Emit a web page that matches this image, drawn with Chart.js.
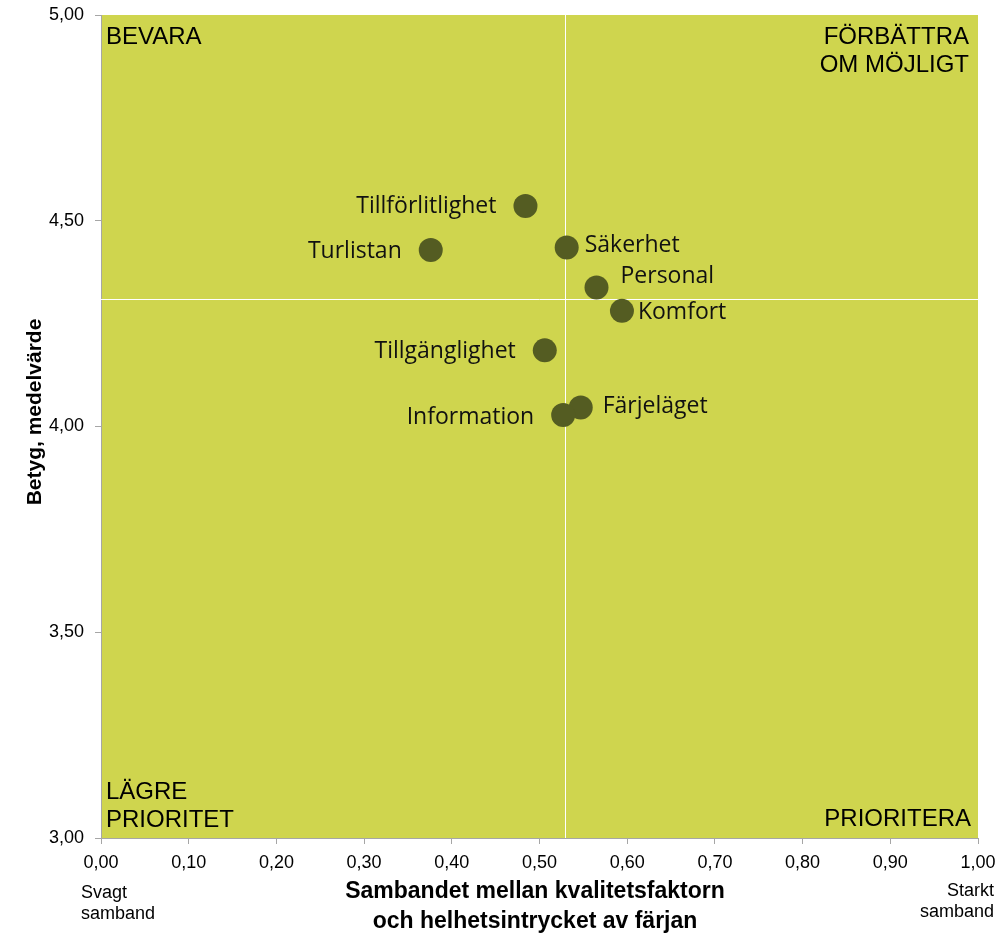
<!DOCTYPE html>
<html>
<head>
<meta charset="utf-8">
<script src="https://cdn.jsdelivr.net/npm/chart.js@4.4.1/dist/chart.umd.min.js"></script>
<style>
  html, body { margin: 0; padding: 0; background: #fff; }
  #wrap { width: 999px; height: 934px; }
</style>
</head>
<body>
<div id="wrap"><canvas id="chart" width="999" height="934"></canvas></div>
<script>
// data
const categories = ["Tillförlitlighet", "Turlistan", "Säkerhet", "Personal",
                    "Komfort", "Tillgänglighet", "Färjeläget", "Information"];
const xValues = [0.484, 0.376, 0.531, 0.565, 0.594, 0.506, 0.547, 0.527];
const yValues = [4.536, 4.429, 4.435, 4.338, 4.281, 4.185, 4.046, 4.028];

const xTicks = [0, 0.1, 0.2, 0.3, 0.4, 0.5, 0.6, 0.7, 0.8, 0.9, 1.0];
const yTicks = [3.0, 3.5, 4.0, 4.5, 5.0];

// quadrant split lines
const splitX = 0.529;
const splitY = 4.311;

const quadrantTopLeft = ["BEVARA"];
const quadrantTopRight = ["FÖRBÄTTRA", "OM MÖJLIGT"];
const quadrantBottomLeft = ["LÄGRE", "PRIORITET"];
const quadrantBottomRight = ["PRIORITERA"];

const xTitle = ["Sambandet mellan kvalitetsfaktorn", "och helhetsintrycket av färjan"];
const yTitle = "Betyg, medelvärde";
const xLowNote = ["Svagt", "samband"];
const xHighNote = ["Starkt", "samband"];

// label placement next to each dot (pixels)
const labelPlace = [
  { side: "left", dx: -29, dy: 1 },
  { side: "left", dx: -29, dy: 1 },
  { side: "right", dx: 18, dy: -2 },
  { side: "right", dx: 24, dy: -11 },
  { side: "right", dx: 16, dy: 2 },
  { side: "left", dx: -29, dy: 1 },
  { side: "right", dx: 22, dy: -1 },
  { side: "left", dx: -29, dy: 2 }
];

const FILL = "#cfd54e";
const DOT = "#545c22";
const AXIS = "#a6a6a6";
const ARIAL = "'Liberation Sans', Arial, sans-serif";
const LABEL_FONT = "23px 'Open Sans', 'Noto Sans', sans-serif";

const fmt = v => Number(v).toFixed(2).replace(".", ",");

const quadrantPlugin = {
  id: "quadrants",
  beforeDraw(chart) {
    const { ctx, chartArea: a } = chart;
    ctx.save();
    ctx.fillStyle = FILL;
    ctx.fillRect(a.left, a.top, a.right - a.left, a.bottom - a.top);
    ctx.restore();
  },
  beforeDatasetsDraw(chart) {
    const { ctx, chartArea: a, scales } = chart;
    const px = Math.round(scales.x.getPixelForValue(splitX)) + 0.5;
    const py = Math.round(scales.y.getPixelForValue(splitY)) + 0.5;
    ctx.save();
    ctx.strokeStyle = "#ffffff";
    ctx.lineWidth = 1;
    ctx.beginPath();
    ctx.moveTo(px, a.top);
    ctx.lineTo(px, a.bottom);
    ctx.moveTo(a.left, py);
    ctx.lineTo(a.right, py);
    ctx.stroke();
    ctx.restore();
  },
  afterDatasetsDraw(chart) {
    const { ctx, chartArea: a } = chart;
    const meta = chart.getDatasetMeta(0);
    ctx.save();

    // quadrant texts
    ctx.fillStyle = "#000";
    ctx.font = "24px " + ARIAL;
    ctx.textBaseline = "middle";
    ctx.textAlign = "left";
    quadrantTopLeft.forEach((t, i) => ctx.fillText(t, a.left + 5, a.top + 22 + i * 28));
    quadrantBottomLeft.forEach((t, i) => ctx.fillText(t, a.left + 5, a.bottom - 46 + i * 28));
    ctx.textAlign = "right";
    quadrantTopRight.forEach((t, i) => ctx.fillText(t, a.right - 9, a.top + 22 + i * 28));
    quadrantBottomRight.forEach((t, i) => ctx.fillText(t, a.right - 7, a.bottom - 19 + i * 28));

    // dot labels
    ctx.font = LABEL_FONT;
    ctx.fillStyle = "#111";
    meta.data.forEach((pt, i) => {
      const p = labelPlace[i];
      ctx.textAlign = p.side === "left" ? "right" : "left";
      ctx.fillText(categories[i], pt.x + p.dx, pt.y + p.dy);
    });

    // notes under the x axis
    ctx.font = "18px " + ARIAL;
    ctx.fillStyle = "#000";
    ctx.textAlign = "left";
    xLowNote.forEach((t, i) => ctx.fillText(t, 81, 893 + i * 21));
    ctx.textAlign = "right";
    xHighNote.forEach((t, i) => ctx.fillText(t, 994, 891 + i * 21));

    // axis titles
    ctx.font = "bold 23px " + ARIAL;
    ctx.textAlign = "center";
    xTitle.forEach((t, i) => ctx.fillText(t, 535, 892 + i * 30));

    ctx.translate(35, 412);
    ctx.rotate(-Math.PI / 2);
    ctx.font = "bold 21px " + ARIAL;
    ctx.fillText(yTitle, 0, 0);
    ctx.restore();
  }
};

new Chart(document.getElementById("chart").getContext("2d"), {
  type: "scatter",
  data: {
    labels: categories,
    datasets: [{
      data: xValues.map((x, i) => ({ x: x, y: yValues[i] })),
      backgroundColor: DOT,
      borderWidth: 0,
      pointRadius: 12,
      pointHoverRadius: 12
    }]
  },
  options: {
    responsive: false,
    animation: false,
    events: [],
    layout: { padding: { top: 15, right: 21, left: 0, bottom: 0 } },
    plugins: {
      legend: { display: false },
      tooltip: { enabled: false }
    },
    scales: {
      x: {
        type: "linear",
        min: 0,
        max: 1,
        afterBuildTicks: s => { s.ticks = xTicks.map(v => ({ value: v })); },
        afterFit: s => { s.height = 96; s.paddingLeft = 0; s.paddingRight = 0; },
        ticks: {
          callback: fmt,
          color: "#000",
          font: { family: ARIAL, size: 18 },
          padding: 8,
          maxRotation: 0,
          autoSkip: false
        },
        grid: { drawOnChartArea: false, drawTicks: true, tickLength: 6, color: AXIS },
        border: { display: true, color: AXIS, width: 1 }
      },
      y: {
        type: "linear",
        min: 3,
        max: 5,
        afterBuildTicks: s => { s.ticks = yTicks.map(v => ({ value: v })); },
        afterFit: s => { s.width = 101; s.paddingTop = 0; s.paddingBottom = 0; },
        ticks: {
          callback: fmt,
          color: "#000",
          font: { family: ARIAL, size: 18 },
          padding: 11,
          autoSkip: false
        },
        grid: { drawOnChartArea: false, drawTicks: true, tickLength: 6, color: AXIS },
        border: { display: true, color: AXIS, width: 1 }
      }
    }
  },
  plugins: [quadrantPlugin]
});
</script>
</body>
</html>
